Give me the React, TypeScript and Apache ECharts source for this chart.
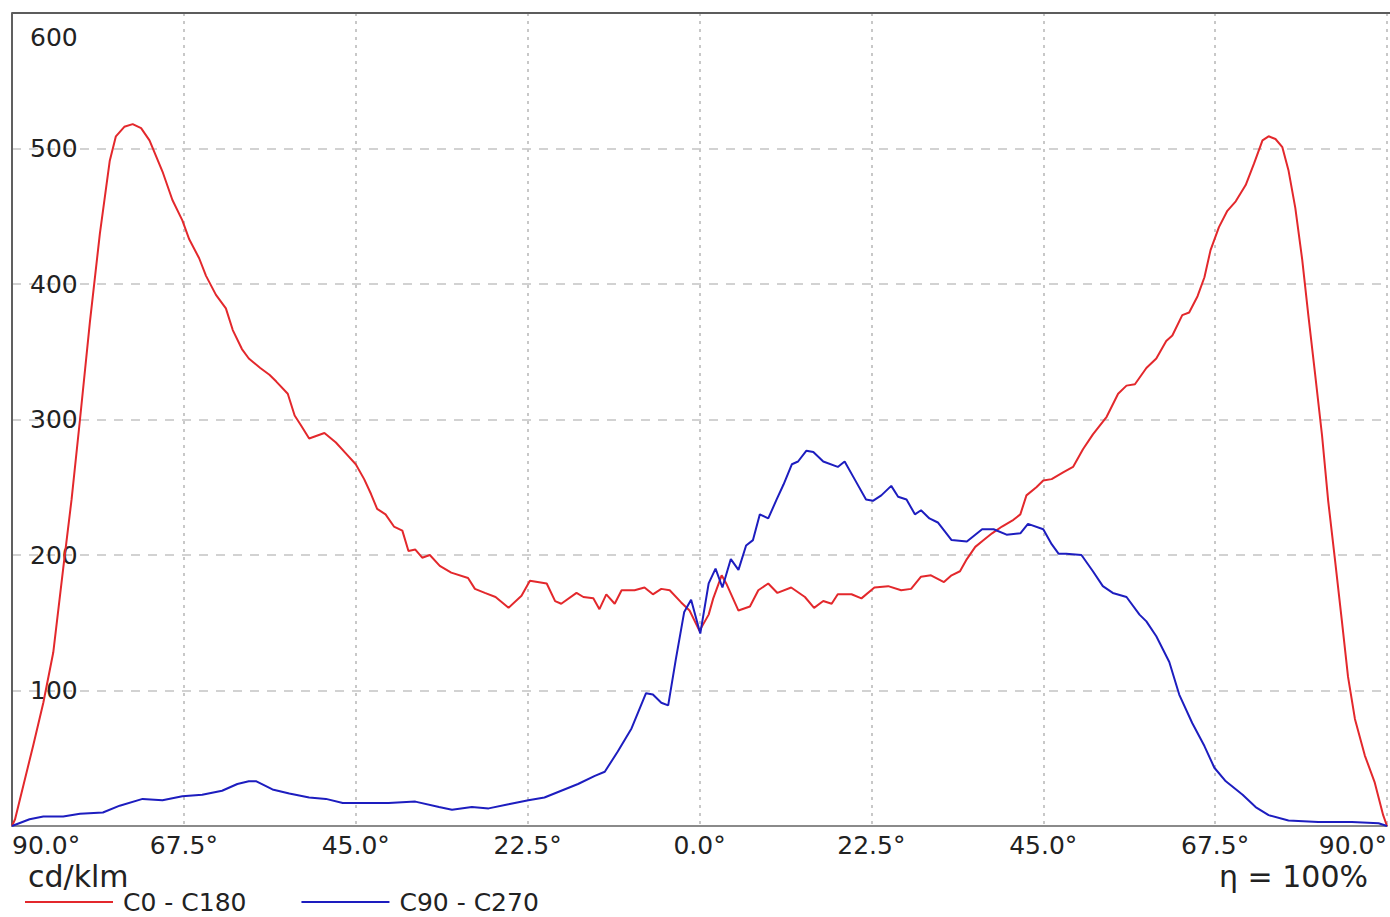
import React, { useEffect, useRef } from "react";
import * as echarts from "echarts";

const xTickLabels = ["90.0°", "67.5°", "45.0°", "22.5°", "0.0°", "22.5°", "45.0°", "67.5°", "90.0°"];
const yTicks = [0, 100, 200, 300, 400, 500, 600];

const seriesNames = ["C0 - C180", "C90 - C270"];

const redAngles = [
  -90, -89.6, -87.2, -85.9, -84.6, -83.3, -82.2, -81.1, -79.8, -78.5, -77.2, -76.4, -75.3, -74.2, -73.1, -72.0,
  -70.3, -69.0, -67.7, -66.8, -65.5, -64.6, -63.3, -62.0, -61.1, -59.9, -59.0, -57.5, -56.3, -55.4, -53.9, -53.0,
  -52.2, -51.1, -49.1, -47.6, -46.3, -45.0, -43.9, -43.0, -42.2, -41.1, -40.0, -38.9, -38.1, -37.2, -36.3, -35.3,
  -34.0, -32.5, -30.3, -29.4, -28.1, -26.7, -25.0, -23.3, -22.2, -20.0, -18.9, -18.1, -16.1, -15.2, -13.9, -13.1,
  -12.2, -11.1, -10.2, -8.5, -7.2, -6.1, -5.0, -3.9, -2.4, -1.3, 0, 1.2, 1.8, 2.9, 3.5, 5.1, 6.6, 7.7, 9.0, 10.2,
  12.0, 13.8, 15.0, 16.2, 17.3, 18.1, 19.9, 21.2, 22.9, 24.7, 26.4, 27.7, 29.0, 30.3, 32.0, 33.0, 34.1, 35.0,
  36.1, 37.2, 38.3, 39.6, 41.1, 42.0, 42.8, 44.1, 45.0, 46.1, 47.6, 48.9, 50.2, 51.5, 53.3, 54.8, 55.9, 57.0,
  58.5, 59.8, 61.1, 61.9, 63.2, 64.1, 65.2, 66.1, 66.9, 68.0, 69.1, 70.2, 71.5, 72.6, 73.7, 74.5, 75.4, 76.3,
  77.1, 78.0, 78.9, 79.7, 80.6, 81.5, 82.3, 83.2, 84.1, 84.9, 85.8, 87.1, 88.4, 89.5, 90,
];
const redValues = [
  0, 5, 60, 91, 128, 190, 241, 300, 372, 437, 491, 509, 516, 518, 515, 506,
  483, 462, 447, 433, 419, 406, 392, 382, 366, 352, 345, 338, 333, 328, 319, 303,
  296, 286, 290, 283, 275, 267, 256, 245, 234, 230, 221, 218, 203, 204, 198, 200,
  192, 187, 183, 175, 172, 169, 161, 170, 181, 179, 166, 164, 172, 169, 168, 160,
  171, 164, 174, 174, 176, 171, 175, 174, 165, 159, 144, 156, 168, 185, 179, 159, 162, 174, 179, 172,
  176, 169, 161, 166, 164, 171, 171, 168, 176, 177, 174, 175, 184, 185, 180, 185, 188, 197,
  206, 211, 216, 221, 226, 230, 244, 250, 255, 256, 261, 265, 278, 289, 302, 319, 325, 326,
  338, 345, 358, 362, 377, 379, 391, 405, 425, 442, 454, 461, 473, 489, 506, 509, 507, 501,
  484, 456, 418, 377, 333, 288, 240, 196, 151, 110, 79, 52, 32, 8, 0,
];

const blueAngles = [
  -90, -87.7, -85.9, -83.3, -81.1, -78.1, -75.9, -72.9, -70.3, -67.7, -65.1, -62.5, -60.5, -59.0, -58.0, -55.9,
  -53.7, -51.1, -48.9, -46.7, -43.7, -40.7, -37.2, -34.1, -32.4, -29.8, -27.6, -25.0, -22.4, -20.3, -18.1, -15.9,
  -13.7, -12.4, -10.7, -8.9, -7.0, -6.1, -5.0, -4.1, -3.1, -2.0, -1.1, 0.1, 1.2, 2.1, 3.0, 4.1, 5.1, 6.1, 7.0,
  7.9, 9.0, 10.1, 11.0, 12.1, 12.9, 14.0, 14.9, 16.2, 18.1, 19.0, 20.3, 21.8, 22.7, 23.8, 25.1, 26.0, 27.1,
  28.2, 29.0, 30.1, 31.2, 33.0, 35.0, 37.0, 38.5, 40.2, 42.0, 43.0, 45.0, 46.1, 47.0, 48.0, 50.0, 51.5, 52.8,
  54.1, 55.9, 57.6, 58.5, 59.8, 61.5, 62.8, 64.5, 66.1, 67.4, 68.9, 71.1, 72.8, 74.5, 77.1, 81.0, 85.4, 88.9, 90,
];
const blueValues = [
  0, 5, 7, 7, 9, 10, 15, 20, 19, 22, 23, 26, 31, 33, 33, 27,
  24, 21, 20, 17, 17, 17, 18, 14, 12, 14, 13, 16, 19, 21, 26, 31,
  37, 40, 55, 72, 98, 97, 91, 89, 123, 158, 167, 142, 179, 190, 176, 197, 189, 207, 211,
  230, 227, 241, 252, 267, 269, 277, 276, 269, 265, 269, 256, 241, 240, 244, 251, 243, 241,
  230, 233, 227, 224, 211, 210, 219, 219, 215, 216, 223, 219, 208, 201, 201, 200, 188, 177,
  172, 169, 156, 151, 140, 121, 97, 76, 59, 43, 33, 23, 14, 8, 4, 3, 3, 2, 0,
];

const FONT = "DejaVu Sans";

export default function App() {
  const ref = useRef<HTMLDivElement>(null);
  useEffect(() => {
    if (!ref.current) return;
    const chart = echarts.init(ref.current, undefined, { renderer: "svg" });
    const red = redAngles.map((a, i) => [a, redValues[i]]);
    const blue = blueAngles.map((a, i) => [a, blueValues[i]]);
    chart.setOption({
      animation: false,
      backgroundColor: "#ffffff",
      grid: { left: 12, right: 0, top: 13, bottom: 91, containLabel: false },
      xAxis: {
        type: "value",
        min: -90,
        max: 90,
        interval: 22.5,
        axisLine: { show: true, onZero: false, lineStyle: { color: "#8a8a8a", width: 2 } },
        axisTick: { show: false },
        splitLine: { show: true, lineStyle: { color: "#c8c8c8", type: [3, 5], width: 2 } },
        axisLabel: {
          margin: 7,
          color: "#222",
          fontFamily: FONT,
          fontSize: 25,
          alignMinLabel: "left",
          alignMaxLabel: "right",
          formatter: (v: number) => {
            const idx = Math.round((v + 90) / 22.5);
            return xTickLabels[idx] ?? "";
          },
        },
      },
      yAxis: {
        type: "value",
        min: 0,
        max: 600,
        interval: 100,
        axisLine: { show: true, onZero: false, lineStyle: { color: "#606060", width: 2 } },
        axisTick: { show: false },
        splitLine: { show: true, lineStyle: { color: "#c4c4c4", type: [9, 8], width: 1.5 } },
        axisLabel: {
          inside: true,
          margin: 18,
          color: "#222",
          fontFamily: FONT,
          fontSize: 25,
          formatter: (v: number) => (v === yTicks[0] || v === yTicks[yTicks.length - 1] ? "" : String(v)),
        },
      },
      legend: {
        left: 25,
        top: 889,
        icon: "rect",
        itemWidth: 88,
        itemHeight: 2,
        itemGap: 55,
        padding: 0,
        textStyle: { fontFamily: FONT, fontSize: 25, lineHeight: 26, color: "#222", padding: [0, 0, 0, 5] },
        data: seriesNames,
      },
      graphic: [
        {
          type: "line",
          z: 100,
          shape: { x1: 12, y1: 13, x2: 1390, y2: 13 },
          style: { stroke: "#5c5c5c", lineWidth: 2 },
        },
        {
          type: "text",
          left: 30,
          top: 25,
          style: { text: String(yTicks[yTicks.length - 1]), font: `25px "${FONT}"`, fill: "#222" },
        },
        {
          type: "text",
          left: 28,
          top: 861,
          style: { text: "cd/klm", font: `30px "${FONT}"`, fill: "#222" },
        },
        {
          type: "text",
          right: 22,
          top: 861,
          style: { text: "η = 100%", font: `30px "${FONT}"`, fill: "#222" },
        },
      ],
      series: [
        {
          name: seriesNames[0],
          type: "line",
          data: red,
          symbol: "none",
          lineStyle: { color: "#e3282c", width: 2 },
          itemStyle: { color: "#e3282c" },
        },
        {
          name: seriesNames[1],
          type: "line",
          data: blue,
          symbol: "none",
          lineStyle: { color: "#1d1dbf", width: 2 },
          itemStyle: { color: "#1d1dbf" },
        },
      ],
    });
    return () => chart.dispose();
  }, []);
  return (
    <div
      ref={ref}
      style={{ position: "fixed", left: 0, top: 0, width: 1390, height: 917, background: "#fff" }}
    />
  );
}
